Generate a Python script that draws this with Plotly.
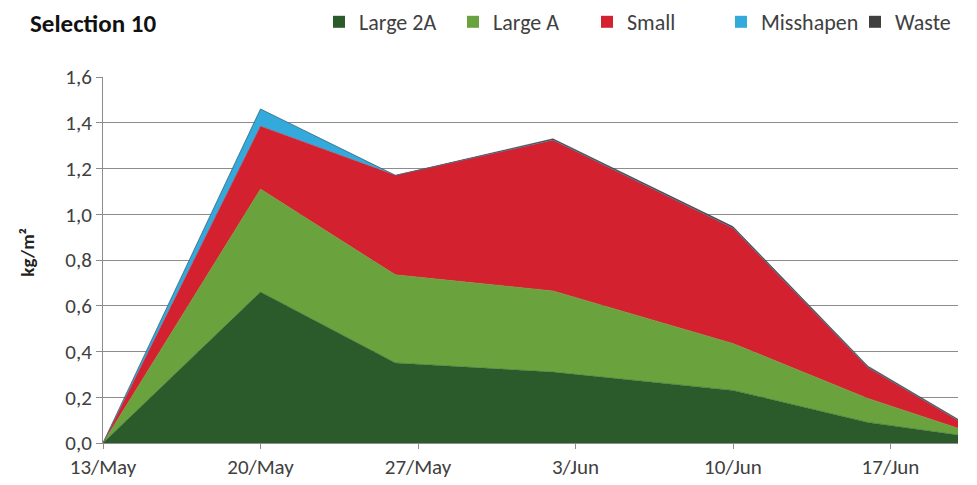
import plotly.graph_objects as go

dates = ["2013-05-13", "2013-05-20", "2013-05-26", "2013-06-02",
         "2013-06-10", "2013-06-16", "2013-06-20"]
large_2a = [0.0, 0.66, 0.35, 0.31, 0.23, 0.09, 0.035]
large_a = [0.0, 0.45, 0.385, 0.355, 0.205, 0.105, 0.03]
small = [0.0, 0.275, 0.435, 0.66, 0.505, 0.135, 0.035]
misshapen = [0.0, 0.075, 0.0, 0.0, 0.0, 0.0, 0.0]
waste = [0.0, 0.0, 0.0, 0.005, 0.006, 0.006, 0.004]

tick_vals = ["2013-05-13", "2013-05-20", "2013-05-27", "2013-06-03",
             "2013-06-10", "2013-06-17"]
tick_text = ["13/May", "20/May", "27/May", "3/Jun", "10/Jun", "17/Jun"]

series = [
    ("Large 2A", large_2a, "#2b5b2b"),
    ("Large A", large_a, "#6aa33d"),
    ("Small", small, "#d3212f"),
    ("Misshapen", misshapen, "#33a9dc"),
    ("Waste", waste, "#3f3f3f"),
]

fig = go.Figure()
for name, vals, color in series:
    fig.add_trace(go.Scatter(
        x=dates, y=vals, name=name, mode="lines",
        stackgroup="one", line=dict(width=0.5, color=color),
        fillcolor=color, showlegend=False,
    ))
# square legend keys like the original
for name, vals, color in series:
    fig.add_trace(go.Scatter(
        x=[None], y=[None], name=name, mode="markers",
        marker=dict(symbol="square", size=12, color=color),
    ))

# page has an 8px body margin, so the figure is 8px smaller than the window
W, H = 969, 477
font = "Carlito, Lato, sans-serif"
fig.update_layout(
    width=W, height=H,
    margin=dict(l=95, r=19, t=69, b=42, autoexpand=False),
    paper_bgcolor="white", plot_bgcolor="white",
    separators=",.",
    font=dict(family=font, size=21, color="#404040"),
    showlegend=True,
    legend=dict(orientation="h", x=311 / W, xref="container", xanchor="left",
                y=1 - 14 / H, yref="container", yanchor="middle",
                font=dict(size=22, color="#404040"), itemwidth=30,
                entrywidth=89, entrywidthmode="pixels",
                traceorder="normal", tracegroupgap=0),
    title=dict(text="<b>Selection 10</b>", x=22 / W, xref="container", xanchor="left",
               y=1 - 15 / H, yref="container", yanchor="middle",
               font=dict(size=25, color="#111111")),
)
fig.add_annotation(text="<b>kg/m²</b>", textangle=-90, xref="paper", yref="paper",
                   x=-75 / 855, y=0.52, xanchor="center", yanchor="middle",
                   showarrow=False, font=dict(size=19, color="#222222"))
fig.update_xaxes(
    type="date", range=["2013-05-13", "2013-06-20"],
    tickvals=tick_vals, ticktext=tick_text, automargin=False,
    showgrid=False, showline=True, linecolor="#8c8c8c", linewidth=1,
    ticks="outside", ticklen=5, tickcolor="#8c8c8c",
    tickfont=dict(size=21, color="#404040"),
)
fig.update_yaxes(
    range=[0, 1.6], dtick=0.2, tickformat=".1f", automargin=False,
    showgrid=True, gridcolor="#8c8c8c", gridwidth=1,
    showline=True, linecolor="#8c8c8c", linewidth=1,
    ticks="outside", ticklen=6, tickcolor="#8c8c8c",
    tickfont=dict(size=21, color="#404040"),
    zeroline=False,
)

fig.write_html("out.html")
